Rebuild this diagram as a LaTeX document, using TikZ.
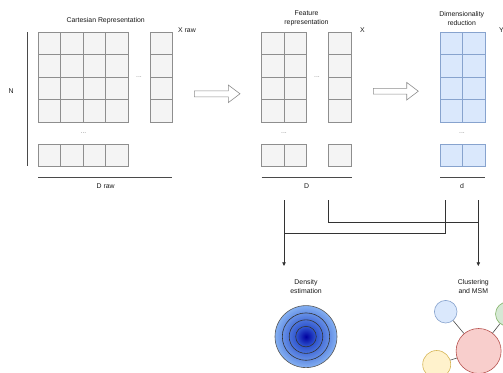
\documentclass[tikz,border=0pt]{standalone}
\usepackage{fontspec}
\setmainfont{Liberation Sans}
\usetikzlibrary{arrows.meta,shapes.geometric}

\definecolor{cellfill}{HTML}{F4F4F4}
\definecolor{cellline}{HTML}{8E8E8E}
\definecolor{bluefill}{HTML}{DAE8FC}
\definecolor{blueline}{HTML}{87A3CE}
\definecolor{pinkfill}{HTML}{F8CECC}
\definecolor{pinkline}{HTML}{B85450}
\definecolor{greenfill}{HTML}{D5E8D4}
\definecolor{greenline}{HTML}{82B366}
\definecolor{yellowfill}{HTML}{FFF2CC}
\definecolor{yellowline}{HTML}{D6B656}
\definecolor{txt}{HTML}{1A1A1A}
\definecolor{rule}{HTML}{4A4A4A}
\definecolor{densc}{HTML}{0000A0}
\definecolor{densm}{HTML}{2F55CF}
\definecolor{denso}{HTML}{84B0F2}

% radial glow; TikZ maps the 25bp circle onto the shaded shape
\pgfdeclareradialshading{densityglow}{\pgfpoint{0bp}{0bp}}{%
  color(0bp)=(densc); color(8bp)=(densm); color(25bp)=(denso); color(50bp)=(denso)}

\tikzset{
  cell/.style={draw=cellline, fill=cellfill, line width=0.75pt,
               minimum width=22.5pt, minimum height=22.5pt, inner sep=0pt},
  bcell/.style={cell, draw=blueline, fill=bluefill},
  lbl/.style={font=\fontsize{6.9}{9.3}\selectfont, text=txt, inner sep=0pt, align=center},
  gap/.style={font=\fontsize{6.9}{9.3}\selectfont, text=cellline, inner sep=0pt},
  scale rule/.style={draw=rule, line width=0.6pt},
  bigarrow/.style={draw=cellline, fill=white, line width=0.6pt, line join=miter},
  conn/.style={draw=black!80, line width=0.6pt},
  connarrow/.style={conn, -{Triangle[length=3.6pt,width=3.4pt]}},
  blob/.style={circle, line width=0.6pt, inner sep=0pt},
  link/.style={draw=black!70, line width=0.6pt},
}

\begin{document}
\begin{tikzpicture}[x=1pt, y=-1pt]
\clip (0,0) rectangle (503,372);
\fill[white] (0,0) rectangle (503,372);

% ---------- raw cartesian data ----------
\node[lbl] (tRaw) at (105.7,20.7) {Cartesian Representation};
\foreach \i in {0,...,3}{
  \foreach \j in {0,...,3}{
    \node[cell] (a-\j-\i) at ({49.6+22.5*\i},{43.6+22.5*\j}) {};
  }
  \node[cell] (ab-\i) at ({49.6+22.5*\i},155.2) {};
  \node[cell] (ar-\i) at (161.2,{43.6+22.5*\i}) {};
}
\node[gap] (aDotsR) at (139,77.5) {...};
\node[gap] (aDotsB) at (83.5,133) {...};
\node[lbl] (tXraw) at (187,30) {X raw};
\node[lbl] (tN) at (11,90.7) {N};
\coordinate (nTop) at (27.3,32.3);
\coordinate (nBot) at (27.3,165.7);
\draw[scale rule] (nTop) -- (nBot);
\coordinate (draw0) at (38.3,177);
\coordinate (draw1) at (172.3,177);
\draw[scale rule] (draw0) -- (draw1);
\node[lbl] (tDraw) at (105.7,185.7) {D raw};

% ---------- arrow: raw -> features ----------
\draw[bigarrow] (194.3,90.8) -- (228.3,90.8) -- (228.3,85) -- (240,93.8)
  -- (228.3,102.6) -- (228.3,96.8) -- (194.3,96.8) -- cycle;

% ---------- feature representation ----------
\node[lbl] (tFeat) at (306.5,18.6) {Feature\\representation};
\foreach \i in {0,1}{
  \foreach \j in {0,...,3}{
    \node[cell] (f-\j-\i) at ({273+22.5*\i},{43.6+22.5*\j}) {};
  }
  \node[cell] (fb-\i) at ({273+22.5*\i},155.2) {};
}
\foreach \j in {0,...,3}{
  \node[cell] (fr-\j) at (340,{43.6+22.5*\j}) {};
}
\node[cell] (fbr) at (340,155.2) {};
\node[gap] (fDotsR) at (317,77.5) {...};
\node[gap] (fDotsB) at (284,133) {...};
\node[lbl] (tX) at (362.3,30) {X};
\coordinate (D0) at (261.7,177);
\coordinate (D1) at (351.7,177);
\draw[scale rule] (D0) -- (D1);
\node[lbl] (tD) at (306.5,186) {D};

% ---------- arrow: features -> reduction ----------
\draw[bigarrow] (373.3,88.3) -- (406.7,88.3) -- (406.7,82.4) -- (418.3,91.2)
  -- (406.7,100) -- (406.7,94.1) -- (373.3,94.1) -- cycle;

% ---------- dimensionality reduction ----------
\node[lbl] (tDim) at (461.7,18.6) {Dimensionality\\reduction};
\foreach \i in {0,1}{
  \foreach \j in {0,...,3}{
    \node[bcell] (r-\j-\i) at ({451.3+22.5*\i},{43.6+22.5*\j}) {};
  }
  \node[bcell] (rb-\i) at ({451.3+22.5*\i},155.2) {};
}
\node[gap] (rDotsB) at (462,133) {...};
\node[lbl] (tY) at (501.3,30) {Y};
\coordinate (d0) at (440,177);
\coordinate (d1) at (484.6,177);
\draw[scale rule] (d0) -- (d1);
\node[lbl] (td) at (462,186) {d};

% ---------- routing to the analyses ----------
\coordinate (srcD) at (284,200);
\coordinate (srcX) at (328.3,200);
\coordinate (srcd) at (445.7,200);
\coordinate (srcY) at (478.3,200);
\coordinate (toDens) at (284,266);
\coordinate (toClus) at (478.3,266);
\coordinate (joinX) at (478.3,222.3);
\coordinate (joinY) at (284,233.3);
\draw[connarrow] (srcD) -- (toDens);
\draw[connarrow] (srcY) -- (toClus);
\draw[conn] (srcX) |- (joinX);
\draw[conn] (srcd) |- (joinY);

% ---------- density estimation ----------
\node[lbl] (tDens) at (306,286.2) {Density\\estimation};
\node[blob, minimum size=62pt, shade, shading=densityglow, draw=black!65] (dens) at (306,336.6) {};
\foreach \r/\k in {47.4/1, 33.6/2, 20.6/3}{
  \node[blob, minimum size=\r pt, draw=black!80] (ring\k) at (dens.center) {};
}

% ---------- clustering and MSM ----------
\node[lbl] (tClus) at (473.3,286.2) {Clustering\\and MSM};
\node[blob, minimum size=45pt, fill=pinkfill, draw=pinkline] (hub) at (478.6,351) {};
\node[blob, minimum size=22.6pt, fill=bluefill, draw=blueline] (cBlue) at (445.7,311.7) {};
\node[blob, minimum size=24pt, fill=greenfill, draw=greenline] (cGreen) at (507.5,314) {};
\node[blob, minimum size=28pt, fill=yellowfill, draw=yellowline] (cYellow) at (436.7,364.5) {};
\draw[link] (cBlue) -- (hub);
\draw[link] (cGreen) -- (hub);
\draw[link] (cYellow) -- (hub);
\end{tikzpicture}
\end{document}
